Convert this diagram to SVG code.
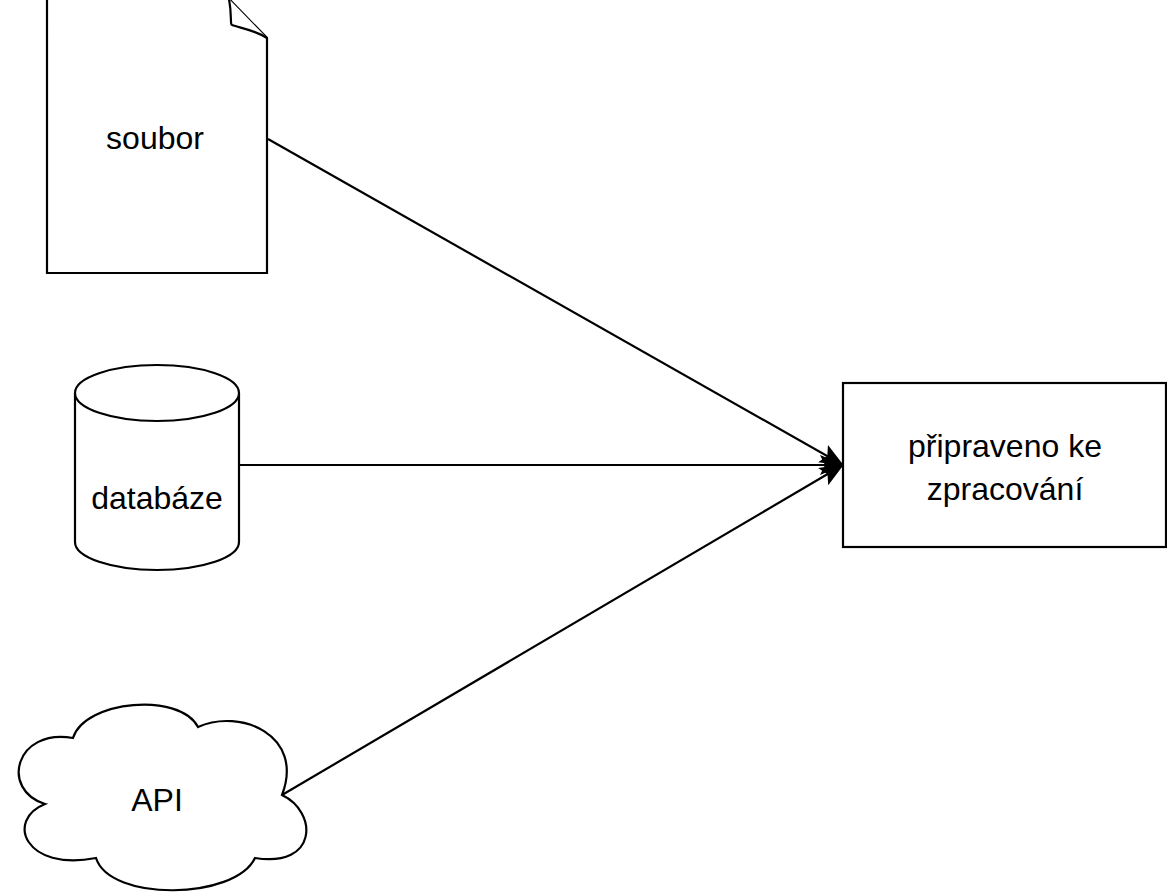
<svg xmlns="http://www.w3.org/2000/svg" width="1167" height="896" viewBox="0 0 1167 896">
<style>
.s{fill:#fff;stroke:#000;stroke-width:2.2}
.t{font-family:"Liberation Sans",Arial,sans-serif;font-size:32px;fill:#000;text-anchor:middle}
</style>
<defs>
<marker id="a2" viewBox="0 0 24 20" refX="23" refY="10" markerWidth="24" markerHeight="20" markerUnits="userSpaceOnUse" orient="auto"><path d="M0,0 L24,10 L0,20 L5,10 Z" fill="#000"/></marker></defs>
<g id="connectors" stroke="#000" stroke-width="2.2">
<line x1="268" y1="139" x2="843" y2="465" marker-end="url(#a2)"/>
<line x1="239" y1="465" x2="843" y2="465" marker-end="url(#a2)"/>
<line x1="282" y1="795" x2="843" y2="465" marker-end="url(#a2)"/>
</g>
<g id="soubor"><path class="s" d="M47,-1 H229 L267,38 V273 H47 Z"/><path class="s" d="M229,-1 C232,15 230,25 232,25 C240,28 255,30 267,38" fill="none"/><text class="t" x="155" y="149">soubor</text></g>
<g id="databaze"><path class="s" d="M75,393 A82,28 0 0 1 239,393 V542 A82,28 0 0 1 75,542 Z"/><path class="s" d="M75,393 A82,28 0 0 0 239,393" fill="none"/><text class="t" x="157" y="509">databáze</text></g>
<g id="api"><path class="s" d="M73,738 C85,700 180,692 198,727 C240,708 305,735 282,795 C318,812 318,868 255,858 C235,900 110,902 96,858 C25,872 5,820 45,804 C0,790 15,728 73,738 Z"/><text class="t" x="157" y="811">API</text></g>
<g id="pripraveno"><rect class="s" x="843" y="383" width="323" height="164"/><text class="t" x="1005" y="457">připraveno ke</text><text class="t" x="1005" y="500">zpracování</text></g>
</svg>
